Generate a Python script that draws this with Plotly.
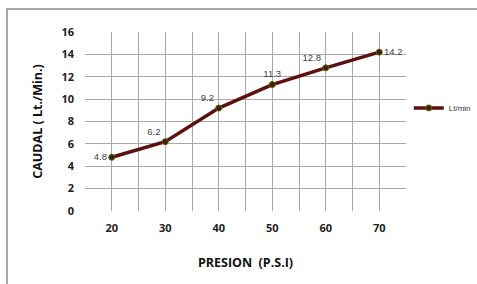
import plotly.graph_objects as go

presion = [20, 30, 40, 50, 60, 70]
caudal = [4.8, 6.2, 9.2, 11.3, 12.8, 14.2]
labels = ["4.8", "6.2", "9.2", "11.3", "12.8", "14.2"]
label_pos = ["middle left", "top left", "top left", "top center", "top left", "middle right"]

fig = go.Figure()
fig.add_trace(go.Scatter(
    x=presion, y=caudal, mode="lines+markers+text",
    name="Lt/min",
    line=dict(color="#5c1010", width=3.5),
    marker=dict(size=6, color="#3a2205", line=dict(color="#6b5a10", width=1)),
    text=labels, textposition=label_pos,
    textfont=dict(family="Liberation Sans, Arial", size=9.5, color="#404040"),
    cliponaxis=False,
))

fig.update_layout(
    width=477, height=284,
    margin=dict(l=85, r=71, t=32, b=73, autoexpand=False),
    paper_bgcolor="white", plot_bgcolor="white",
    showlegend=True,
    legend=dict(xref="container", yref="container", x=0.857, y=0.62,
                xanchor="left", yanchor="middle",
                font=dict(family="Liberation Sans, Arial", size=8, color="#333333"),
                itemwidth=30, bgcolor="rgba(0,0,0,0)"),
    xaxis=dict(range=[15, 75], tickvals=presion, ticktext=[str(v) for v in presion],
               automargin=False,
               showgrid=True, gridcolor="#a8a8a8", gridwidth=1,
               minor=dict(dtick=5, tick0=15, showgrid=True, gridcolor="#a8a8a8", gridwidth=1),
               zeroline=False, showline=False, ticks="", ticklabelstandoff=9,
               tickfont=dict(family="Open Sans, Liberation Sans", size=11, color="#222222", weight="bold"),
               title=dict(text="PRESION  (P.S.I)", standoff=24,
                          font=dict(family="Open Sans, Liberation Sans", size=12.5, color="#111111", weight="bold"))),
    yaxis=dict(range=[0, 16], dtick=2, automargin=False,
               showgrid=True, gridcolor="#a8a8a8", gridwidth=1,
               zeroline=False, showline=False, ticks="", ticklabelstandoff=10,
               tickfont=dict(family="Open Sans, Liberation Sans", size=11, color="#222222", weight="bold"),
               title=dict(text="CAUDAL ( Lt./Min.)", standoff=16,
                          font=dict(family="Open Sans, Liberation Sans", size=12.5, color="#111111", weight="bold"))),
    shapes=[dict(type="rect", xref="paper", yref="paper",
                 x0=(7-85)/321, x1=1.6, y0=-0.6, y1=1+(32-9)/179,
                 line=dict(color="#8a8a8a", width=1.5), layer="below")],
)

fig.write_html("out.html", config={"displayModeBar": False},
               post_script="document.body.style.margin='0px';document.body.style.overflow='hidden';")
